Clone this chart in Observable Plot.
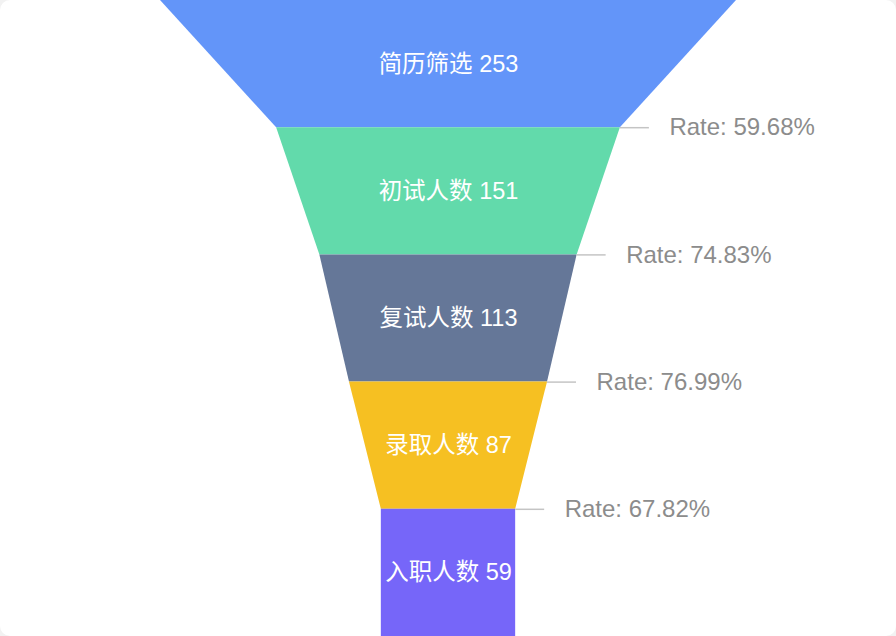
<!DOCTYPE html>
<html>
<head>
<meta charset="utf-8">
<script src="https://cdn.jsdelivr.net/npm/d3@7"></script>
<script src="https://cdn.jsdelivr.net/npm/@observablehq/plot@0.6"></script>
<style>
  html, body { margin: 0; padding: 0; background: #f2f2f2; }
  #card { width: 896px; height: 636px; background: #fff; border-radius: 10px; overflow: hidden; }
  #card svg { display: block; font-family: "Liberation Sans", "Noto Sans CJK SC", sans-serif; }
</style>
</head>
<body>
<div id="card"></div>
<script>
const stages = ["简历筛选", "初试人数", "复试人数", "录取人数", "入职人数"];
const values = [253, 151, 113, 87, 59];
const colors = ["#6395F9", "#62DAAB", "#657798", "#F6C022", "#7666F9"];

const W = 896, H = 636;
const maxV = d3.max(values);
const xLeft = 160, xRight = 736;
const pxPerUnit = (xRight - xLeft) / maxV;

// trapezoid outline points: each stage spans [i, i+1] on y
const areaData = [];
stages.forEach((s, i) => {
  const top = values[i];
  const bottom = i + 1 < values.length ? values[i + 1] : values[i];
  areaData.push({stage: s, y: i, half: top / 2});
  areaData.push({stage: s, y: i + 1, half: bottom / 2});
});

const labelData = stages.map((s, i) => ({stage: s, y: i + 0.5, text: `${s} ${values[i]}`}));

const rateData = values.slice(1).map((v, i) => ({
  y: i + 1,
  corner: v / 2,
  rate: `Rate: ${(v / values[i] * 100).toFixed(2)}%`
}));
const lineLenPx = 29;

const chart = Plot.plot({
  width: W,
  height: H,
  margin: 0,
  x: {domain: [-maxV / 2, maxV / 2], range: [xLeft, xRight], axis: null},
  y: {domain: [0, stages.length], range: [0, H], axis: null},
  color: {domain: stages, range: colors},
  style: {background: "transparent", overflow: "visible"},
  marks: [
    Plot.areaX(areaData, {
      y: "y",
      x1: d => -d.half,
      x2: d => d.half,
      z: "stage",
      fill: "stage",
      curve: "linear"
    }),
    Plot.ruleY(rateData, {
      y: "y",
      x1: "corner",
      x2: d => d.corner + lineLenPx / pxPerUnit,
      stroke: "#c4c4c4",
      strokeWidth: 1.5
    }),
    Plot.text(rateData, {
      x: "corner",
      y: "y",
      text: "rate",
      dx: 49,
      textAnchor: "start",
      fill: "#8c8c8c",
      fontSize: 24
    }),
    Plot.text(labelData, {
      x: () => 0,
      y: "y",
      text: "text",
      fill: "#ffffff",
      fontSize: 23.5
    })
  ]
});
document.getElementById("card").appendChild(chart);
</script>
</body>
</html>
